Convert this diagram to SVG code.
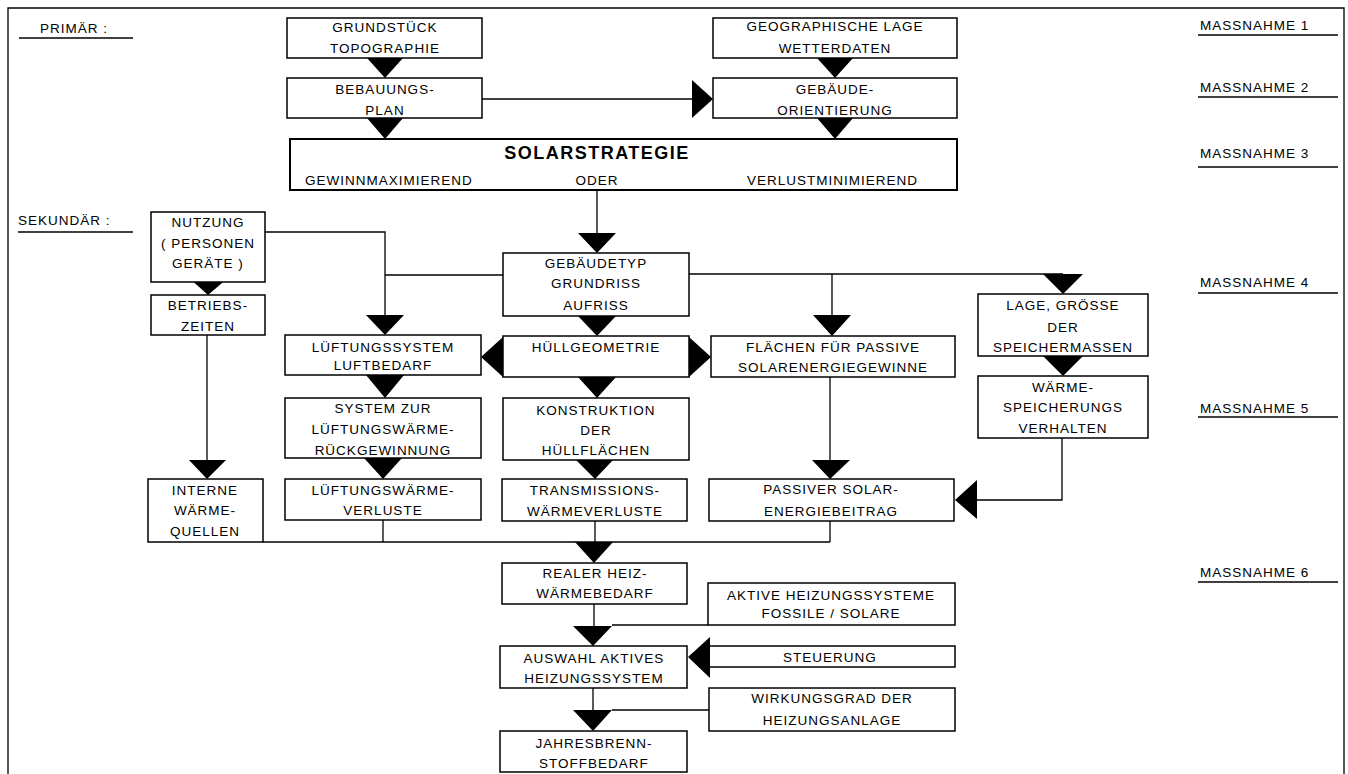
<svg xmlns="http://www.w3.org/2000/svg" width="1348" height="774" viewBox="0 0 1348 774">
<style>
.box{fill:#fff;stroke:#000;stroke-width:1.5}
.ln{fill:none;stroke:#000;stroke-width:1.3}
.ul{fill:none;stroke:#000;stroke-width:1.6}
.ar{fill:#000;stroke:none}
text{font-family:"Liberation Sans",Arial,sans-serif;font-size:13.5px;letter-spacing:1px;fill:#000}
.c{text-anchor:middle}
.title{font-size:18px;font-weight:bold;letter-spacing:1.5px}
</style>
<rect width="1348" height="774" fill="#fff"/>
<g id="frame">
<path class="ln" d="M8,774 V8 H1344 V774"/>
</g>
<g id="labels">
<text x="40" y="33">PRIMÄR :</text>
<path class="ul" d="M19,38 H133"/>
<text x="18" y="225">SEKUNDÄR :</text>
<path class="ul" d="M18,232 H133"/>
<text x="1200" y="30">MASSNAHME 1</text>
<path class="ul" d="M1198,35 H1338"/>
<text x="1200" y="92">MASSNAHME 2</text>
<path class="ul" d="M1198,97 H1338"/>
<text x="1200" y="158">MASSNAHME 3</text>
<path class="ul" d="M1198,167 H1338"/>
<text x="1200" y="287">MASSNAHME 4</text>
<path class="ul" d="M1198,293 H1338"/>
<text x="1200" y="413">MASSNAHME 5</text>
<path class="ul" d="M1198,417 H1338"/>
<text x="1200" y="577">MASSNAHME 6</text>
<path class="ul" d="M1198,582 H1338"/>
</g>
<g id="connectors">
<!-- lines -->
<path class="ln" d="M482,99 H692"/>
<path class="ln" d="M597,190 V233"/>
<path class="ln" d="M265,232 H385 V315"/>
<path class="ln" d="M385,275 H503"/>
<path class="ln" d="M689,274 H1063"/>
<path class="ln" d="M832,274 V315"/>
<path class="ln" d="M207,335 V460"/>
<path class="ln" d="M830,377 V460"/>
<path class="ln" d="M1062,438 V500 H977"/>
<path class="ln" d="M383,520 V542"/>
<path class="ln" d="M595,521 V542"/>
<path class="ln" d="M830,521 V542"/>
<path class="ln" d="M263,542 H830"/>
<path class="ln" d="M594,604 V627"/>
<path class="ln" d="M708,625 H612"/>
<path class="ln" d="M593,688 V710"/>
<path class="ln" d="M709,710 H612"/>
<!-- arrowheads -->
<path class="ar" d="M367,58 L403,58 L385,78 Z"/>
<path class="ar" d="M367,118 L403,118 L385,139 Z"/>
<path class="ar" d="M817,58 L853,58 L835,78 Z"/>
<path class="ar" d="M817,118 L853,118 L835,139 Z"/>
<path class="ar" d="M692,80 L692,118 L713,99 Z"/>
<path class="ar" d="M578,233 L616,233 L597,253 Z"/>
<path class="ar" d="M188,277 L229,277 L208,295 Z"/>
<path class="ar" d="M366,315 L404,315 L385,335 Z"/>
<path class="ar" d="M1043,274 L1083,274 L1063,294 Z"/>
<path class="ar" d="M813,315 L851,315 L832,336 Z"/>
<path class="ar" d="M578,316 L616,316 L597,336 Z"/>
<path class="ar" d="M503,337 L503,377 L481,357 Z"/>
<path class="ar" d="M689,337 L689,377 L711,357 Z"/>
<path class="ar" d="M366,375 L404,375 L385,398 Z"/>
<path class="ar" d="M578,377 L616,377 L597,398 Z"/>
<path class="ar" d="M1043,356 L1083,356 L1063,376 Z"/>
<path class="ar" d="M189,460 L226,460 L207,479 Z"/>
<path class="ar" d="M364,458 L402,458 L383,479 Z"/>
<path class="ar" d="M576,460 L613,460 L595,479 Z"/>
<path class="ar" d="M812,460 L850,460 L830,479 Z"/>
<path class="ar" d="M977,480 L977,519 L955,500 Z"/>
<path class="ar" d="M575,542 L613,542 L594,563 Z"/>
<path class="ar" d="M573,626 L612,626 L593,646 Z"/>
<path class="ar" d="M710,637 L710,678 L688,657 Z"/>
<path class="ar" d="M573,710 L612,710 L593,731 Z"/>
</g>
<g id="n-grundstueck">
<rect class="box" x="287" y="18" width="195" height="40"/>
<text class="c" x="385" y="32">GRUNDSTÜCK</text>
<text class="c" x="385" y="53">TOPOGRAPHIE</text>
</g>
<g id="n-bebauungsplan">
<rect class="box" x="287" y="78" width="195" height="40"/>
<text class="c" x="385" y="94">BEBAUUNGS-</text>
<text class="c" x="385" y="115">PLAN</text>
</g>
<g id="n-geographische-lage">
<rect class="box" x="713" y="18" width="244" height="40"/>
<text class="c" x="835" y="31">GEOGRAPHISCHE LAGE</text>
<text class="c" x="835" y="53">WETTERDATEN</text>
</g>
<g id="n-gebaeudeorientierung">
<rect class="box" x="713" y="78" width="244" height="40"/>
<text class="c" x="835" y="94">GEBÄUDE-</text>
<text class="c" x="835" y="115">ORIENTIERUNG</text>
</g>
<g id="n-solarstrategie">
<rect class="box" x="290" y="139" width="667" height="51" style="stroke-width:2"/>
<text class="c title" x="597" y="158.5">SOLARSTRATEGIE</text>
<text x="305" y="185">GEWINNMAXIMIEREND</text>
<text class="c" x="597" y="185">ODER</text>
<text x="918" y="185" style="text-anchor:end">VERLUSTMINIMIEREND</text>
</g>
<g id="n-nutzung">
<rect class="box" x="151" y="212" width="114" height="70"/>
<text class="c" x="208" y="227">NUTZUNG</text>
<text class="c" x="208" y="248">( PERSONEN</text>
<text class="c" x="208" y="268">GERÄTE )</text>
</g>
<g id="n-betriebszeiten">
<rect class="box" x="151" y="295" width="114" height="40"/>
<text class="c" x="208" y="310">BETRIEBS-</text>
<text class="c" x="208" y="331">ZEITEN</text>
</g>
<g id="n-gebaeudetyp">
<rect class="box" x="503" y="253" width="186" height="63"/>
<text class="c" x="596" y="268">GEBÄUDETYP</text>
<text class="c" x="596" y="288">GRUNDRISS</text>
<text class="c" x="596" y="310">AUFRISS</text>
</g>
<g id="n-speichermassen">
<rect class="box" x="978" y="294" width="170" height="62"/>
<text class="c" x="1063" y="310">LAGE, GRÖSSE</text>
<text class="c" x="1063" y="332">DER</text>
<text class="c" x="1063" y="352">SPEICHERMASSEN</text>
</g>
<g id="n-lueftungssystem">
<rect class="box" x="285" y="335" width="196" height="40"/>
<text class="c" x="383" y="352">LÜFTUNGSSYSTEM</text>
<text class="c" x="383" y="370">LUFTBEDARF</text>
</g>
<g id="n-huellgeometrie">
<rect class="box" x="503" y="336" width="186" height="41"/>
<text class="c" x="596" y="352">HÜLLGEOMETRIE</text>
</g>
<g id="n-flaechen">
<rect class="box" x="711" y="336" width="244" height="41"/>
<text class="c" x="833" y="352">FLÄCHEN FÜR PASSIVE</text>
<text class="c" x="833" y="372">SOLARENERGIEGEWINNE</text>
</g>
<g id="n-waermespeicherung">
<rect class="box" x="978" y="376" width="170" height="62"/>
<text class="c" x="1063" y="392">WÄRME-</text>
<text class="c" x="1063" y="412">SPEICHERUNGS</text>
<text class="c" x="1063" y="433">VERHALTEN</text>
</g>
<g id="n-rueckgewinnung">
<rect class="box" x="285" y="398" width="196" height="60"/>
<text class="c" x="383" y="413">SYSTEM ZUR</text>
<text class="c" x="383" y="434">LÜFTUNGSWÄRME-</text>
<text class="c" x="383" y="455">RÜCKGEWINNUNG</text>
</g>
<g id="n-konstruktion">
<rect class="box" x="503" y="398" width="186" height="62"/>
<text class="c" x="596" y="415">KONSTRUKTION</text>
<text class="c" x="596" y="435">DER</text>
<text class="c" x="596" y="455">HÜLLFLÄCHEN</text>
</g>
<g id="n-interne">
<rect class="box" x="148" y="479" width="115" height="63"/>
<text class="c" x="205" y="495">INTERNE</text>
<text class="c" x="205" y="515">WÄRME-</text>
<text class="c" x="205" y="536">QUELLEN</text>
</g>
<g id="n-lueftungsverluste">
<rect class="box" x="285" y="479" width="196" height="41"/>
<text class="c" x="383" y="495">LÜFTUNGSWÄRME-</text>
<text class="c" x="383" y="515">VERLUSTE</text>
</g>
<g id="n-transmission">
<rect class="box" x="502" y="479" width="185" height="42"/>
<text class="c" x="595" y="495">TRANSMISSIONS-</text>
<text class="c" x="595" y="516">WÄRMEVERLUSTE</text>
</g>
<g id="n-passiver">
<rect class="box" x="709" y="479" width="245" height="42"/>
<text class="c" x="831" y="494">PASSIVER SOLAR-</text>
<text class="c" x="831" y="516">ENERGIEBEITRAG</text>
</g>
<g id="n-realer">
<rect class="box" x="502" y="563" width="185" height="41"/>
<text class="c" x="595" y="578">REALER HEIZ-</text>
<text class="c" x="595" y="598">WÄRMEBEDARF</text>
</g>
<g id="n-aktive">
<rect class="box" x="708" y="583" width="247" height="42"/>
<text class="c" x="831" y="600">AKTIVE HEIZUNGSSYSTEME</text>
<text class="c" x="831" y="618">FOSSILE / SOLARE</text>
</g>
<g id="n-auswahl">
<rect class="box" x="500" y="646" width="187" height="42"/>
<text class="c" x="594" y="663">AUSWAHL AKTIVES</text>
<text class="c" x="594" y="683">HEIZUNGSSYSTEM</text>
</g>
<g id="n-steuerung">
<path class="box" d="M710,646 H955 V667 H710" style="fill:none"/>
<text class="c" x="830" y="662">STEUERUNG</text>
</g>
<g id="n-wirkungsgrad">
<rect class="box" x="709" y="688" width="246" height="43"/>
<text class="c" x="832" y="703">WIRKUNGSGRAD DER</text>
<text class="c" x="832" y="725">HEIZUNGSANLAGE</text>
</g>
<g id="n-jahresbrennstoff">
<rect class="box" x="500" y="731" width="187" height="41"/>
<text class="c" x="594" y="748">JAHRESBRENN-</text>
<text class="c" x="594" y="768">STOFFBEDARF</text>
</g>
</svg>
